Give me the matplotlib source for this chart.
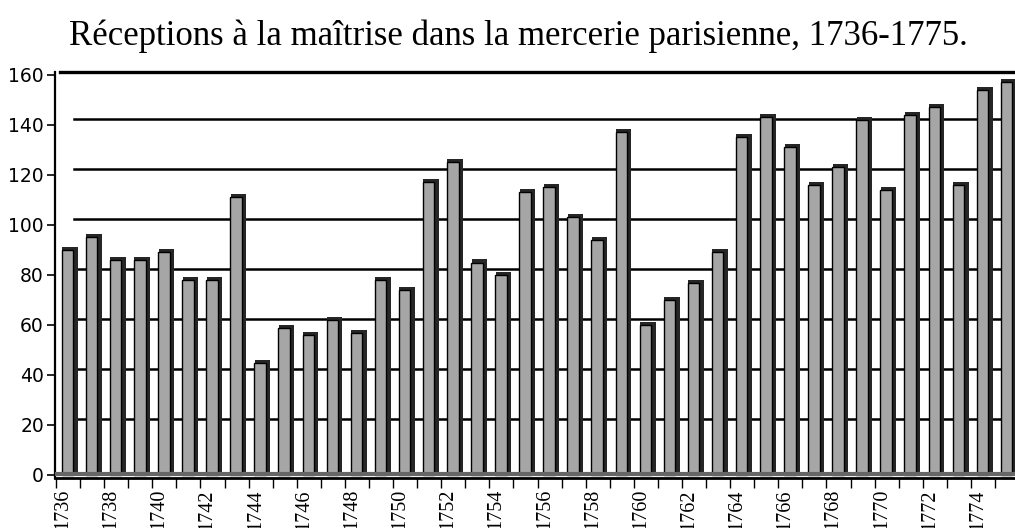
import matplotlib
matplotlib.use("Agg")
import matplotlib.pyplot as plt
import numpy as np
from matplotlib.transforms import ScaledTranslation

years = list(range(1736, 1776))
receptions = [90, 95, 86, 86, 89, 78, 78, 111, 45, 59,
              56, 62, 57, 78, 74, 117, 125, 85, 80, 113,
              115, 103, 94, 137, 60, 70, 77, 89, 135, 143,
              131, 116, 123, 142, 114, 144, 147, 116, 154, 157]
y_ticks = [0, 20, 40, 60, 80, 100, 120, 140, 160]
x_label_years = years[::2]
title = "Réceptions à la maîtrise dans la mercerie parisienne, 1736-1775."

fig = plt.figure(figsize=(10.15, 5.28), dpi=100)
ax = fig.add_axes([55/1015, 1-478/528, 1-55/1015, (478-72)/528])

x = np.arange(len(years))
ax.set_xlim(-0.54, len(years) - 1 + 0.33)
ax.set_ylim(-1.2, 161.2)

# back-wall gridlines, shifted up slightly for the 3D look
off = ScaledTranslation(0, 6/100, fig.dpi_scale_trans)
gtrans = ax.get_yaxis_transform() + off
for v in y_ticks[1:-1]:
    ax.plot([0.02, 1.0], [v, v], color="black", lw=1.8,
            transform=gtrans, zorder=1, clip_on=False)

# bars: dark side/cap behind, gray front face
ax.bar(x + 0.08, np.array(receptions) + 1.2, width=0.64, color="#262626",
       align="center", zorder=2)
ax.bar(x - 0.02, receptions, width=0.48, color="#a6a6a6", edgecolor="black",
       linewidth=1.0, zorder=3)

# floor strip
ax.axhline(0.6, color="#666666", lw=3, zorder=4)

for s in ["top", "right"]:
    ax.spines[s].set_visible(False)
ax.spines["left"].set_linewidth(1.6)
ax.spines["bottom"].set_linewidth(2.0)
ax.plot([0.005, 1.0], [1.0, 1.0], color="black", lw=2.4,
        transform=ax.transAxes, clip_on=False, zorder=1)

ax.set_yticks(y_ticks)
ax.set_yticklabels([str(v) for v in y_ticks], fontsize=13.5,
                   family="DejaVu Sans")
ax.tick_params(axis="y", length=6, width=1.2, pad=2)

ax.set_xticks(np.arange(len(years)) - 0.5, minor=True)
ax.tick_params(axis="x", which="minor", length=7, width=1.0)
ax.set_xticks(x[::2] - 0.22)
ax.set_xticklabels([str(v) for v in x_label_years], rotation=90,
                   fontsize=14.5, family="Liberation Serif")
ax.tick_params(axis="x", which="major", length=0, pad=8)

fig.text(518/1015, 1-36/528, title, ha="center", va="center",
         fontsize=25, family="Liberation Serif")

fig.savefig("out.png", dpi=100)
